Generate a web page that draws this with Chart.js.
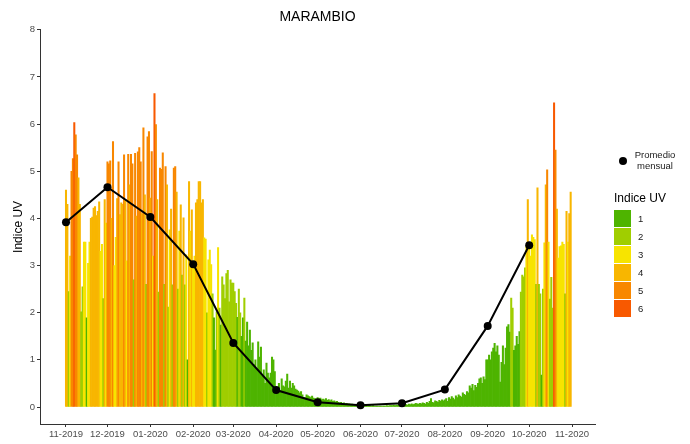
<!DOCTYPE html>
<html>
<head>
<meta charset="utf-8">
<script src="https://cdn.jsdelivr.net/npm/chart.js@4/dist/chart.umd.min.js"></script>
<style>
body{margin:0;background:#fff;font-family:"Liberation Sans",Arial,sans-serif}
#wrap{position:relative;width:690px;height:444px}
.lg{position:absolute;color:#1a1a1a;white-space:nowrap}
.box{position:absolute;width:17px;height:17px}
</style>
</head>
<body>
<div id="wrap">
<canvas id="uv" width="690" height="444"></canvas>
<div id="legend"></div>
</div>
<script>
// daily UV index, Marambio, one array per month
var nov2019 = [4.6, 4.3, 2.45, 3.2, 5.0, 5.27, 6.03, 5.77, 5.35, 4.86, 4.3, 2.02, 2.55, 3.5, 3.5, 1.89, 3.05, 3.5, 4.0, 4.03, 4.22, 4.25, 4.06, 4.15, 4.35, 3.3, 3.45, 2.3, 4.4, 3.9];
var dec2019 = [5.2, 5.16, 5.22, 4.0, 5.63, 3.0, 3.6, 4.42, 5.2, 4.08, 4.33, 4.3, 5.35, 4.4, 3.1, 5.36, 4.71, 5.36, 5.16, 2.7, 5.38, 4.05, 5.41, 5.5, 5.2, 4.1, 5.92, 4.5, 2.6, 5.73, 5.84];
var jan2020 = [4.43, 5.42, 3.2, 6.65, 5.99, 4.4, 2.44, 5.07, 5.04, 5.39, 2.6, 5.1, 4.71, 2.12, 3.76, 4.2, 2.59, 5.07, 5.1, 4.56, 2.5, 3.73, 4.29, 2.8, 4.01, 2.59, 3.23, 1.0, 4.78, 3.73, 4.18];
var feb2020 = [3.06, 3.2, 4.33, 4.4, 4.78, 4.78, 4.33, 4.4, 3.59, 3.56, 2.0, 3.12, 3.33, 3.02, 2.4, 1.89, 1.21, 2.02, 3.38, 2.1, 1.74, 2.76, 2.59, 2.3, 2.83, 2.9, 2.23, 2.7, 2.63];
var mar2020 = [2.63, 2.45, 2.2, 1.9, 2.5, 2.0, 1.5, 1.89, 2.31, 1.4, 1.8, 1.3, 1.63, 1.2, 1.36, 0.9, 1.0, 0.8, 1.38, 1.06, 1.27, 0.7, 0.79, 0.5, 0.93, 0.72, 0.62, 0.72, 1.06, 1.0, 0.75];
var apr2020 = [0.42, 0.4, 0.5, 0.35, 0.6, 0.45, 0.43, 0.55, 0.7, 0.4, 0.55, 0.4, 0.5, 0.45, 0.38, 0.36, 0.34, 0.3, 0.33, 0.26, 0.2, 0.2, 0.26, 0.24, 0.22, 0.2, 0.23, 0.19, 0.18, 0.17];
var may2020 = [0.2, 0.18, 0.19, 0.16, 0.17, 0.15, 0.18, 0.14, 0.16, 0.13, 0.15, 0.12, 0.13, 0.11, 0.12, 0.1, 0.09, 0.1, 0.08, 0.09, 0.07, 0.08, 0.06, 0.07, 0.05, 0.06, 0.05, 0.04, 0.05, 0.04, 0.04];
var jun2020 = [0.04, 0.03, 0.04, 0.03, 0.04, 0.02, 0.03, 0.03, 0.02, 0.03, 0.02, 0.02, 0.02, 0.02, 0.02, 0.02, 0.02, 0.02, 0.02, 0.03, 0.02, 0.03, 0.03, 0.03, 0.04, 0.03, 0.04, 0.04, 0.05, 0.05];
var jul2020 = [0.05, 0.04, 0.06, 0.05, 0.04, 0.06, 0.05, 0.07, 0.05, 0.06, 0.08, 0.07, 0.06, 0.08, 0.07, 0.09, 0.08, 0.06, 0.1, 0.08, 0.12, 0.18, 0.1, 0.09, 0.13, 0.12, 0.1, 0.14, 0.12, 0.15, 0.13];
var aug2020 = [0.15, 0.18, 0.12, 0.2, 0.17, 0.22, 0.19, 0.16, 0.24, 0.2, 0.26, 0.23, 0.21, 0.3, 0.27, 0.25, 0.33, 0.3, 0.45, 0.4, 0.48, 0.35, 0.46, 0.42, 0.5, 0.6, 0.62, 0.5, 0.64, 0.58, 1.0];
var sep2020 = [1.0, 1.1, 1.0, 1.17, 1.25, 1.35, 1.17, 1.3, 1.1, 0.53, 0.95, 1.3, 0.9, 1.25, 1.7, 1.75, 1.59, 2.31, 2.1, 1.2, 1.3, 1.5, 1.33, 1.6, 2.44, 2.8, 2.76, 2.95, 3.4, 4.4];
var oct2020 = [3.45, 3.2, 3.65, 3.6, 3.55, 2.6, 4.65, 2.6, 2.4, 0.68, 2.5, 3.48, 4.71, 5.03, 3.5, 2.29, 2.75, 2.1, 6.45, 5.45, 4.2, 3.16, 3.4, 3.42, 3.5, 3.45, 2.4, 4.15, 3.5, 4.1, 4.56];

// monthly mean ("Promedio mensual")
var monthlyMean = [3.92, 4.66, 4.03, 3.03, 1.36, 0.36, 0.1, 0.04, 0.08, 0.37, 1.72, 3.43];

var monthLabels = ['11-2019', '12-2019', '01-2020', '02-2020', '03-2020', '04-2020', '05-2020', '06-2020', '07-2020', '08-2020', '09-2020', '10-2020', '11-2020'];
var yTicks = [0, 1, 2, 3, 4, 5, 6, 7, 8];
var uvLevels = ['1', '2', '3', '4', '5', '6'];
var uvColors = ['#4eb400', '#a0ce00', '#f7e400', '#f8b600', '#f88700', '#f85900'];

var months = [nov2019, dec2019, jan2020, feb2020, mar2020, apr2020, may2020, jun2020, jul2020, aug2020, sep2020, oct2020];

// day index from 1 Nov 2019
var monthStart = [0];
months.forEach(function(m, i) { monthStart.push(monthStart[i] + m.length); });

var daily = [];
var barColors = [];
months.forEach(function(m, i) {
	m.forEach(function(v, d) {
		daily.push({x: monthStart[i] + d, y: v});
		var cat = Math.min(6, Math.max(1, Math.floor(v)));
		barColors.push(uvColors[cat - 1]);
	});
});
var meanPoints = monthlyMean.map(function(v, i) { return {x: monthStart[i], y: v}; });

var tickFont = {family: '"Liberation Sans", Arial, sans-serif', size: 9.5};

new Chart(document.getElementById('uv'), {
	type: 'bar',
	data: {
		datasets: [{
			type: 'line',
			data: meanPoints,
			borderColor: '#000',
			borderWidth: 2,
			pointRadius: 4,
			pointBackgroundColor: '#000',
			pointBorderWidth: 0,
			tension: 0,
			order: 0
		}, {
			data: daily,
			backgroundColor: barColors,
			barPercentage: 1,
			categoryPercentage: 1,
			borderWidth: 0,
			order: 1
		}]
	},
	options: {
		responsive: false,
		devicePixelRatio: 1,
		animation: false,
		layout: {padding: {left: 0, right: 95, top: 0, bottom: 0}},
		plugins: {
			legend: {display: false},
			tooltip: {enabled: false},
			title: {
				display: true,
				text: 'MARAMBIO',
				fullSize: false,
				color: '#000',
				font: {family: '"Liberation Sans", Arial, sans-serif', size: 14, weight: 'normal'},
				padding: {top: 9, bottom: 4}
			}
		},
		scales: {
			x: {
				type: 'linear',
				offset: false,
				min: -18.8,
				max: 382.6,
				afterBuildTicks: function(s) { s.ticks = monthStart.map(function(v) { return {value: v}; }); },
				afterFit: function(s) { s.height = 20; },
				ticks: {
					autoSkip: false,
					maxRotation: 0,
					color: '#4d4d4d',
					font: tickFont,
					padding: 2,
					callback: function(v, i) { return monthLabels[i]; }
				},
				grid: {offset: false, drawOnChartArea: false, tickLength: 3, color: '#333'},
				border: {color: '#333', width: 1}
			},
			y: {
				min: -0.36,
				max: 8,
				afterBuildTicks: function(s) { s.ticks = yTicks.map(function(v) { return {value: v}; }); },
				afterFit: function(s) { s.width = 40; },
				ticks: {color: '#4d4d4d', font: tickFont, padding: 2},
				grid: {drawOnChartArea: false, tickLength: 3, color: '#333'},
				border: {color: '#333', width: 1},
				title: {
					display: true,
					text: 'Indice UV',
					color: '#000',
					font: {family: '"Liberation Sans", Arial, sans-serif', size: 12},
					padding: {top: 11, bottom: 0}
				}
			}
		}
	}
});

// legend on the right
var lg = document.getElementById('legend');
var html = '<div style="position:absolute;left:619px;top:157px;width:8px;height:8px;border-radius:50%;background:#000"></div>';
html += '<div class="lg" style="left:630px;top:150px;width:50px;text-align:center;font-size:9.5px;line-height:10.5px">Promedio<br>mensual</div>';
html += '<div class="lg" style="left:614px;top:191px;font-size:12px;color:#000">Indice UV</div>';
uvLevels.forEach(function(l, i) {
	html += '<div class="box" style="left:614px;top:' + (210 + i * 18) + 'px;background:' + uvColors[i] + '"></div>';
	html += '<div class="lg" style="left:638px;top:' + (213 + i * 18) + 'px;font-size:9.5px">' + l + '</div>';
});
lg.innerHTML = html;
</script>
</body>
</html>
